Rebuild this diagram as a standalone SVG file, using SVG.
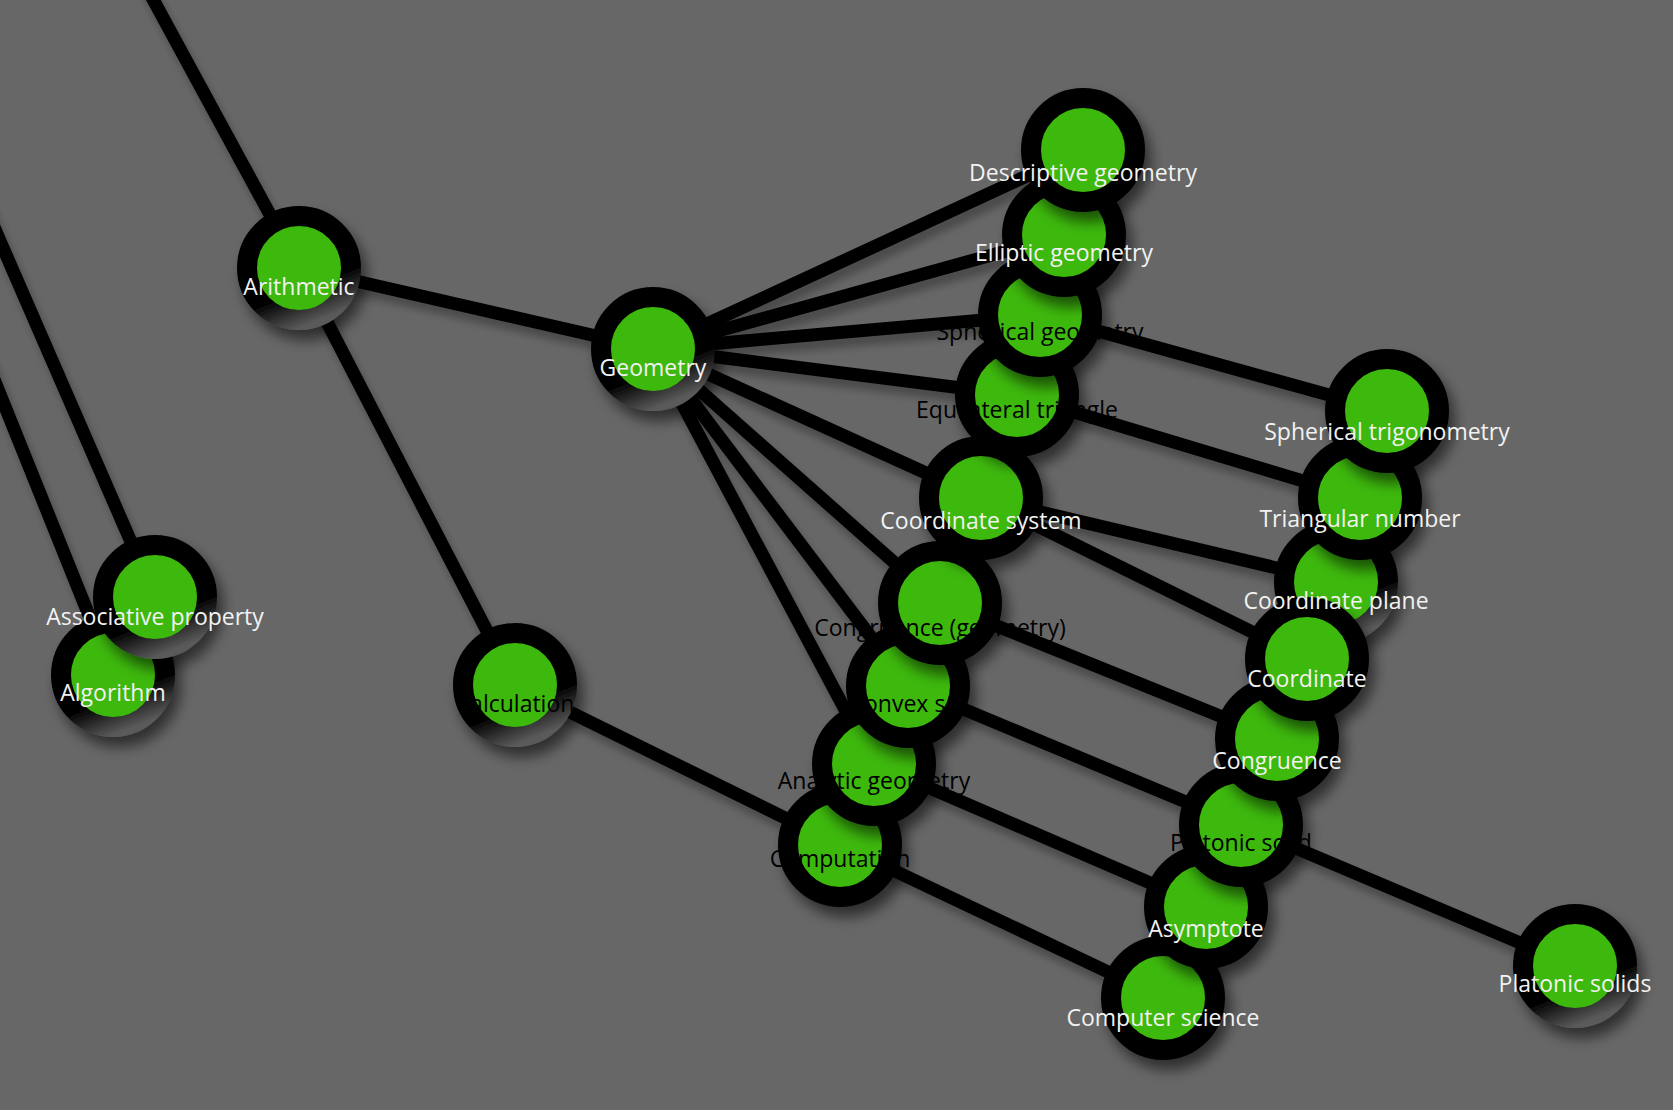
<svg xmlns="http://www.w3.org/2000/svg" width="1673" height="1110" viewBox="0 0 1673 1110">
<style>
.link{stroke:#000;stroke-width:13;stroke-linecap:butt;fill:none}
.ring{fill:#3db80c;stroke:#000;stroke-width:20}
.ring.fade{stroke:url(#fade)}
.lbl{font-family:"Open Sans",Lato,sans-serif;font-size:23px;text-anchor:middle}
.w{fill:#f2f2f2}
.b{fill:#000}
</style>
<defs>
<filter id="shadow" x="-50%" y="-50%" width="200%" height="200%">
<feGaussianBlur in="SourceAlpha" stdDeviation="7"/>
<feOffset dx="6" dy="10" result="o"/>
<feComponentTransfer><feFuncA type="linear" slope="0.55"/></feComponentTransfer>
<feMerge><feMergeNode/><feMergeNode in="SourceGraphic"/></feMerge>
</filter>
<filter id="lshadow" x="-10%" y="-10%" width="120%" height="120%">
<feGaussianBlur in="SourceAlpha" stdDeviation="4"/>
<feOffset dx="4" dy="8"/>
<feComponentTransfer><feFuncA type="linear" slope="0.3"/></feComponentTransfer>
<feMerge><feMergeNode/><feMergeNode in="SourceGraphic"/></feMerge>
</filter>
<linearGradient id="fade" x1="0.3" y1="0" x2="0.7" y2="1">
<stop offset="0" stop-color="#000"/>
<stop offset="0.68" stop-color="#000"/>
<stop offset="1" stop-color="#5a5a5a"/>
</linearGradient>
</defs>
<rect width="1673" height="1110" fill="#676767"/>
<g id="links" filter="url(#lshadow)">
<line class="link" x1="136" y1="-32" x2="299" y2="268"/>
<line class="link" x1="299" y1="268" x2="653" y2="349"/>
<line class="link" x1="299" y1="268" x2="515" y2="685"/>
<line class="link" x1="515" y1="685" x2="840" y2="845"/>
<line class="link" x1="-60" y1="103" x2="155" y2="597"/>
<line class="link" x1="-60" y1="245" x2="113" y2="675"/>
<line class="link" x1="653" y1="349" x2="1083" y2="150"/>
<line class="link" x1="653" y1="349" x2="1064" y2="235"/>
<line class="link" x1="653" y1="349" x2="1040" y2="315"/>
<line class="link" x1="653" y1="349" x2="1017" y2="395"/>
<line class="link" x1="653" y1="349" x2="981" y2="498"/>
<line class="link" x1="653" y1="349" x2="940" y2="603"/>
<line class="link" x1="653" y1="349" x2="908" y2="686"/>
<line class="link" x1="653" y1="349" x2="874" y2="764"/>
<line class="link" x1="1040" y1="315" x2="1387" y2="411"/>
<line class="link" x1="1017" y1="395" x2="1360" y2="498"/>
<line class="link" x1="981" y1="498" x2="1336" y2="582"/>
<line class="link" x1="981" y1="498" x2="1307" y2="659"/>
<line class="link" x1="940" y1="603" x2="1277" y2="739"/>
<line class="link" x1="908" y1="686" x2="1241" y2="825"/>
<line class="link" x1="874" y1="764" x2="1206" y2="907"/>
<line class="link" x1="840" y1="845" x2="1163" y2="998"/>
<line class="link" x1="1241" y1="825" x2="1575" y2="966"/>
</g>
<g id="nodes">
<g id="n-arithmetic" filter="url(#shadow)"><circle class="ring fade" cx="299" cy="268" r="52"/></g>
<g id="n-geometry" filter="url(#shadow)"><circle class="ring fade" cx="653" cy="349" r="52"/></g>
<g id="n-calculation" filter="url(#shadow)"><circle class="ring fade" cx="515" cy="685" r="52"/></g>
<g id="n-algorithm" filter="url(#shadow)"><circle class="ring fade" cx="113" cy="675" r="52"/></g>
<g id="n-associative" filter="url(#shadow)"><circle class="ring fade" cx="155" cy="597" r="52"/></g>
<g id="n-platonic-solids" filter="url(#shadow)"><circle class="ring fade" cx="1575" cy="966" r="52"/></g>
<g id="n-computation" filter="url(#shadow)"><circle class="ring" cx="840" cy="845" r="52"/></g>
<g id="n-analytic" filter="url(#shadow)"><circle class="ring" cx="874" cy="764" r="52"/></g>
<g id="n-convex" filter="url(#shadow)"><circle class="ring" cx="908" cy="686" r="52"/></g>
<g id="n-congruence-geometry" filter="url(#shadow)"><circle class="ring" cx="940" cy="603" r="52"/></g>
<g id="n-coordinate-system" filter="url(#shadow)"><circle class="ring" cx="981" cy="498" r="52"/></g>
<g id="n-equilateral" filter="url(#shadow)"><circle class="ring" cx="1017" cy="395" r="52"/></g>
<g id="n-spherical-geometry" filter="url(#shadow)"><circle class="ring" cx="1040" cy="315" r="52"/></g>
<g id="n-elliptic" filter="url(#shadow)"><circle class="ring" cx="1064" cy="235" r="52"/></g>
<g id="n-descriptive" filter="url(#shadow)"><circle class="ring" cx="1083" cy="150" r="52"/></g>
<g id="n-computer-science" filter="url(#shadow)"><circle class="ring" cx="1163" cy="998" r="52"/></g>
<g id="n-asymptote" filter="url(#shadow)"><circle class="ring" cx="1206" cy="907" r="52"/></g>
<g id="n-platonic-solid" filter="url(#shadow)"><circle class="ring" cx="1241" cy="825" r="52"/></g>
<g id="n-congruence" filter="url(#shadow)"><circle class="ring" cx="1277" cy="739" r="52"/></g>
<g id="n-coordinate-plane" filter="url(#shadow)"><circle class="ring fade" cx="1336" cy="582" r="52"/></g>
<g id="n-coordinate" filter="url(#shadow)"><circle class="ring" cx="1307" cy="659" r="52"/></g>
<g id="n-triangular" filter="url(#shadow)"><circle class="ring" cx="1360" cy="498" r="52"/></g>
<g id="n-spherical-trig" filter="url(#shadow)"><circle class="ring" cx="1387" cy="411" r="52"/></g>
</g>
<g id="labels" class="lbl">
<text class="w" x="299" y="295">Arithmetic</text>
<text class="w" x="653" y="376">Geometry</text>
<text class="b" x="515" y="712">Calculation</text>
<text class="w" x="113" y="701">Algorithm</text>
<text class="w" x="155" y="625">Associative property</text>
<text class="w" x="1575" y="992">Platonic solids</text>
<text class="b" x="840" y="867">Computation</text>
<text class="b" x="874" y="789">Analytic geometry</text>
<text class="b" x="908" y="712">Convex set</text>
<text class="b" x="940" y="636">Congruence (geometry)</text>
<text class="w" x="981" y="529">Coordinate system</text>
<text class="b" x="1017" y="418">Equilateral triangle</text>
<text class="b" x="1040" y="340">Spherical geometry</text>
<text class="w" x="1064" y="261">Elliptic geometry</text>
<text class="w" x="1083" y="181">Descriptive geometry</text>
<text class="w" x="1163" y="1026">Computer science</text>
<text class="w" x="1206" y="937">Asymptote</text>
<text class="b" x="1241" y="851">Platonic solid</text>
<text class="w" x="1277" y="769">Congruence</text>
<text class="w" x="1336" y="609">Coordinate plane</text>
<text class="w" x="1307" y="687">Coordinate</text>
<text class="w" x="1360" y="527">Triangular number</text>
<text class="w" x="1387" y="440">Spherical trigonometry</text>
</g>
</svg>
